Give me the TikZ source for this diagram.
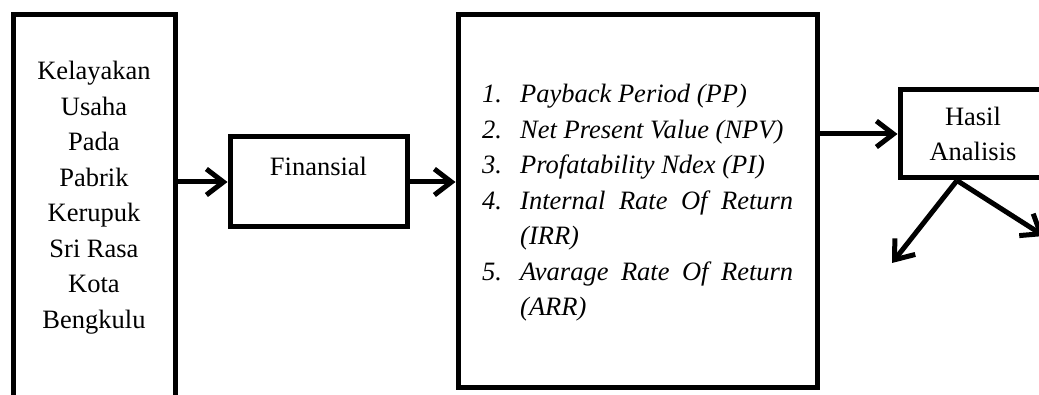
\documentclass[tikz,border=0pt]{standalone}
\usepackage{fontspec}
\setmainfont{Liberation Serif}
\usetikzlibrary{arrows.meta}
\tikzset{kotak/.style={
    draw,
    line width=5pt,
    inner sep=0pt
  },
  panah/.style={
    line width=5pt,
    -{Straight Barb[length=17pt,width=26pt]}
  },
  huruf/.style={
    font=\fontsize{26.5}{35.5}\selectfont
  }
}
\newcommand{\butir}[2]{\hangindent=38pt\hangafter=1\noindent\makebox[38pt][l]{#1}#2\par}

\begin{document}
\begin{tikzpicture}[x=1pt,y=-1pt]
      \useasboundingbox (0,0) rectangle (1039,395);
      \clip (0,0) rectangle (1039,395);
      \node[kotak,minimum width=162pt,minimum height=420pt] (usaha) at (94,225) {};
      \node[huruf,align=center,anchor=north,inner sep=0pt] (usahateks) at (94,61)
      {Kelayakan\\Usaha\\Pada\\Pabrik\\Kerupuk\\Sri Rasa\\Kota\\Bengkulu};
      \node[kotak,huruf,minimum width=177pt,text height=39pt,text depth=51pt]
      (finansial) at (318.5,182) {Finansial};
      \node[kotak,minimum width=359pt,minimum height=372pt] (metode) at (637.5,201) {};
      \node[huruf,text width=311pt,align=justify,anchor=north west,inner sep=0pt]
      (metodeteks) at (482,84) {\itshape\tolerance=10000\hyphenpenalty=10000
        \butir{1.}{Payback Period (PP)}
        \butir{2.}{Net Present Value (NPV)}
        \butir{3.}{Profatability Ndex (PI)}
        \butir{4.}{Internal Rate Of Return (IRR)}
        \butir{5.}{Avarage Rate Of Return (ARR)}};
      \node[kotak,huruf,align=center,minimum width=146pt,minimum height=88pt]
      (hasil) at (973,134) {Hasil\\Analisis};
      \coordinate (kiri) at (892,263);
      \coordinate (kanan) at (1044,236);
      \draw[panah] (usaha.east |- finansial.west) -- (finansial.west);
      \draw[panah] (finansial.east) -- (finansial.east -| metode.west);
      \draw[panah] (metode.east |- hasil.west) -- (hasil.west);
      \draw[panah] ([xshift=-16pt]hasil.south) -- (kiri);
      \draw[panah] ([xshift=-16pt]hasil.south) -- (kanan);
    \end{tikzpicture}
\end{document}
